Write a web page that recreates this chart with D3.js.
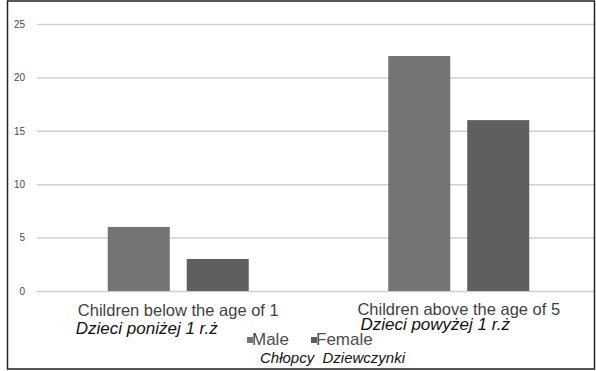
<!DOCTYPE html>
<html>
<head>
<meta charset="utf-8">
<script src="https://cdn.jsdelivr.net/npm/d3@7"></script>
<style>
  body { margin: 0; background: #fff; }
  svg { display: block; font-family: "Liberation Sans", Arial, sans-serif; }
</style>
</head>
<body>
<svg id="chart" width="596" height="371"></svg>
<script>
const categories = ["Children below the age of 1", "Children above the age of 5"]
const categoriesPl = ["Dzieci poniżej 1 r.ż", "Dzieci powyżej 1 r.ż"]
const series = ["Male", "Female"]
const seriesPl = ["Chłopcy", "Dziewczynki"]
const maleValues = [6, 22]
const femaleValues = [3, 16]
const yTicks = [0, 5, 10, 15, 20, 25]

const colors = { Male: "#747474", Female: "#5f5f5f" }

const svg = d3.select("#chart")

const left = 37, right = 594

const y = d3.scaleLinear()
    .domain([0, 25])
    .range([291, 24])

const x0 = d3.scaleBand()
    .domain(categories)
    .range([38, 599])

const x1 = d3.scaleBand()
    .domain(series)
    .range([0, x0.bandwidth()])
    .paddingInner(0.215)
    .paddingOuter(0.883)

// gridlines + y labels
const yAxis = d3.axisLeft(y)
    .tickValues(yTicks)
    .tickSizeInner(-(right - left))
    .tickSizeOuter(0)
    .tickPadding(12)

const ga = svg.append("g")
    .attr("transform", `translate(${left},0)`)
    .call(yAxis)
ga.select(".domain").remove()
ga.selectAll(".tick line")
    .attr("stroke", "#cfcfcf")
    .attr("stroke-width", 1.5)
ga.selectAll(".tick text")
    .attr("fill", "#4a4a4a")
    .style("font-size", "10px")

// bars
const rows = categories.map((c, i) => ({ cat: c, Male: maleValues[i], Female: femaleValues[i] }))

svg.append("g")
    .selectAll("g")
    .data(rows)
    .enter()
    .append("g")
    .attr("transform", d => `translate(${x0(d.cat)},0)`)
    .selectAll("rect")
    .data(d => series.map(s => ({ key: s, value: d[s] })))
    .enter()
    .append("rect")
    .attr("x", d => x1(d.key))
    .attr("width", x1.bandwidth())
    .attr("y", d => y(d.value))
    .attr("height", d => y(0) - y(d.value))
    .attr("fill", d => colors[d.key])

// category labels (english line + polish italic line)
const labelY = [316, 315]
const labelPlY = [334, 330]
const labelPlDx = [-2, 3]

categories.forEach((c, i) => {
    const cx = x0(c) + x0.bandwidth() / 2
    const t = svg.append("text")
        .attr("x", cx)
        .attr("y", labelY[i])
        .attr("text-anchor", "middle")
        .attr("fill", "#3f3f3f")
        .style("font-size", "16.5px")
        .text(c)
    const bb = t.node().getBBox()
    svg.append("text")
        .attr("x", bb.x + labelPlDx[i])
        .attr("y", labelPlY[i])
        .attr("fill", "#111")
        .style("font-size", "17px")
        .style("font-style", "italic")
        .text(categoriesPl[i])
})

// legend
const legendX = [247, 311]
series.forEach((s, i) => {
    svg.append("rect")
        .attr("x", legendX[i])
        .attr("y", 337)
        .attr("width", 6)
        .attr("height", 6)
        .attr("fill", colors[s])
    svg.append("text")
        .attr("x", legendX[i] + 5)
        .attr("y", 345)
        .attr("fill", "#4d4d4d")
        .style("font-size", "17px")
        .text(s)
})
svg.append("text")
    .attr("x", 260)
    .attr("y", 363)
    .attr("fill", "#111")
    .style("font-size", "15px")
    .style("font-style", "italic")
    .attr("xml:space", "preserve")
    .text(seriesPl.join("  "))

// frame
svg.append("rect")
    .attr("x", 7.5)
    .attr("y", 1)
    .attr("width", 587)
    .attr("height", 368)
    .attr("fill", "none")
    .attr("stroke", "#222")
    .attr("stroke-width", 1.5)
</script>
</body>
</html>
